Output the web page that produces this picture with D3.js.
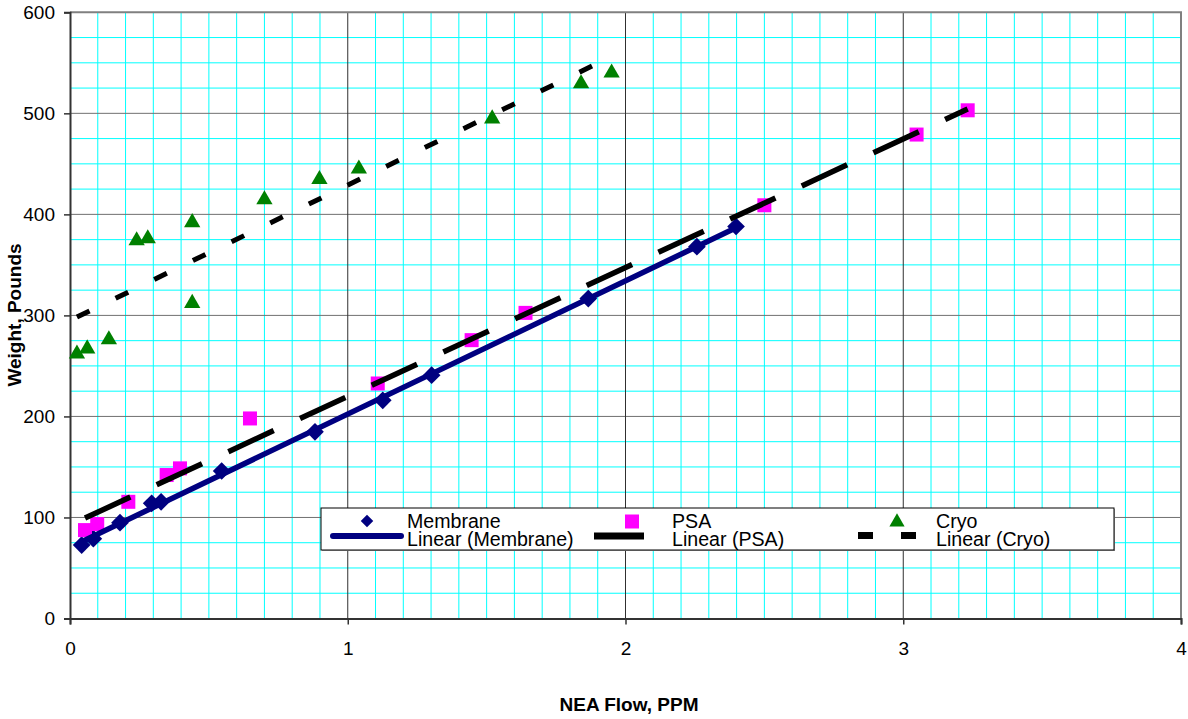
<!DOCTYPE html>
<html><head><meta charset="utf-8">
<script src="https://cdn.jsdelivr.net/npm/d3@7"></script>
<style>
body{margin:0;background:#fff;}
text{font-family:"Liberation Sans",Arial,sans-serif;}
</style></head>
<body>
<svg id="c" width="1188" height="719"></svg>
<script>
// ---- data ----
const membraneX = [0.042,0.084,0.18,0.294,0.328,0.546,0.882,1.126,1.302,1.866,2.257,2.398];
const membraneY = [72.7,79,94.8,114,115.5,146,184.8,216,240.8,316.7,368,388];
const psaX = [0.054,0.098,0.21,0.348,0.396,0.648,1.108,1.446,1.64,2.50,3.048,3.232];
const psaY = [87.5,93.5,115.5,142,148.6,198,232.6,275.5,302.5,409,479,503];
const cryoX = [0.025,0.062,0.14,0.24,0.28,0.44,0.44,0.70,0.898,1.04,1.52,1.84,1.95];
const cryoY = [262,267,276,374,376,312,392,414.6,434.7,445,494.7,529.4,540];
const xTicks = [0,1,2,3,4];
const yTicks = [0,100,200,300,400,500,600];
const seriesNames = ["Membrane","PSA","Cryo"];

// ---- chart ----
const svg = d3.select("#c");
const L=70, R=1181, T=12.3, B=618.5;
const x = d3.scaleLinear().domain([0,4]).range([L,R]);
const y = d3.scaleLinear().domain([0,600]).range([B,T]);

// minor grid
const g = svg.append("g");
g.selectAll(".vx").data(d3.range(1,40).map(i=>i/10).filter(v=>Math.abs(v-Math.round(v))>1e-6))
 .enter().append("line").attr("x1",d=>x(d)).attr("x2",d=>x(d)).attr("y1",T).attr("y2",B)
 .attr("stroke","#00ffff").attr("stroke-width",1);
g.selectAll(".hy").data(d3.range(1,24).map(i=>i*25).filter(v=>v%100!==0))
 .enter().append("line").attr("y1",d=>y(d)).attr("y2",d=>y(d)).attr("x1",L).attr("x2",R)
 .attr("stroke","#00ffff").attr("stroke-width",1);
// major grid
g.selectAll(".mh").data(yTicks.filter(v=>v>0&&v<600)).enter().append("line")
 .attr("y1",d=>y(d)).attr("y2",d=>y(d)).attr("x1",L).attr("x2",R)
 .attr("stroke","#707070").attr("stroke-width",1);
g.selectAll(".mv").data(xTicks.filter(v=>v>0&&v<4)).enter().append("line")
 .attr("x1",d=>x(d)).attr("x2",d=>x(d)).attr("y1",T).attr("y2",B)
 .attr("stroke","#303030").attr("stroke-width",1);
// border top/right
svg.append("path").attr("d",`M${L},${T}H${R}V${B}`).attr("fill","none")
 .attr("stroke","#808080").attr("stroke-width",2);

// axes
const yAxis = d3.axisLeft(y).tickValues(yTicks).tickSize(6).tickPadding(9).tickFormat(d3.format("d"));
const ya = svg.append("g").attr("transform",`translate(${L},0)`).call(yAxis);
const xAxis = d3.axisBottom(x).tickValues(xTicks).tickSize(6).tickPadding(17).tickFormat(d3.format("d"));
const xa = svg.append("g").attr("transform",`translate(0,${B})`).call(xAxis);
[ya,xa].forEach(a=>{
  a.select(".domain").attr("stroke","#333").attr("stroke-width",2);
  a.selectAll(".tick line").attr("stroke","#333").attr("stroke-width",1.5);
  a.selectAll(".tick text").attr("fill","#000").style("font-size","19px")
   .style("font-family","'Liberation Sans',Arial,sans-serif");
});

// markers
const diamond = d3.symbol().type(d3.symbolDiamond2).size(200);
const tri = d3.symbol().type(d3.symbolTriangle).size(115);
const mData = membraneX.map((v,i)=>[v,membraneY[i]]);
const pData = psaX.map((v,i)=>[v,psaY[i]]);
const cData = cryoX.map((v,i)=>[v,cryoY[i]]);

svg.append("g").selectAll("path").data(mData).enter().append("path")
 .attr("d",diamond).attr("transform",d=>`translate(${x(d[0])},${y(d[1])})`)
 .attr("fill","#000080");
svg.append("g").selectAll("rect").data(pData).enter().append("rect")
 .attr("x",d=>x(d[0])-7).attr("y",d=>y(d[1])-7).attr("width",14).attr("height",14)
 .attr("fill","#ff00ff");
svg.append("g").selectAll("path").data(cData).enter().append("path")
 .attr("d",tri).attr("transform",d=>`translate(${x(d[0])},${y(d[1])})`)
 .attr("fill","#008000");

// linear trendlines (least squares)
function fit(xs,ys){
  const mx=d3.mean(xs), my=d3.mean(ys);
  let sxy=0,sxx=0; xs.forEach((v,i)=>{sxy+=(v-mx)*(ys[i]-my); sxx+=(v-mx)*(v-mx);});
  const b=sxy/sxx, a=my-b*mx;
  const x0=d3.min(xs), x1=d3.max(xs);
  return [[x0,a+b*x0],[x1,a+b*x1]];
}
const line = d3.line().x(d=>x(d[0])).y(d=>y(d[1]));
svg.append("path").attr("d",line(fit(membraneX,membraneY))).attr("fill","none")
 .attr("stroke","#000080").attr("stroke-width",5.5).attr("stroke-linecap","round");
svg.append("path").attr("d",line(fit(psaX,psaY))).attr("fill","none")
 .attr("stroke","#000").attr("stroke-width",5.5).attr("stroke-dasharray","50,29");
svg.append("path").attr("d",line(fit(cryoX,cryoY))).attr("fill","none")
 .attr("stroke","#000").attr("stroke-width",5).attr("stroke-dasharray","14,29");

// axis titles
svg.append("text").attr("x",629).attr("y",711).attr("text-anchor","middle")
 .style("font-size","19px").style("font-weight","bold").text("NEA Flow, PPM");
svg.append("text").attr("transform","translate(21,315) rotate(-90)").attr("text-anchor","middle")
 .style("font-size","19px").style("font-weight","bold").text("Weight, Pounds");

// legend
const lg = svg.append("g");
lg.append("rect").attr("x",321).attr("y",508).attr("width",793).attr("height",42)
 .attr("fill","#fff").attr("stroke","#000").attr("stroke-width",1);
lg.append("path").attr("d","M322,550.5H1114.5V509").attr("fill","none").attr("stroke","#555").attr("stroke-width",1);
// Membrane
lg.append("path").attr("d",d3.symbol().type(d3.symbolDiamond2).size(100)).attr("transform","translate(367,521)").attr("fill","#000080");
lg.append("line").attr("x1",333).attr("x2",401).attr("y1",536).attr("y2",536)
 .attr("stroke","#000080").attr("stroke-width",6).attr("stroke-linecap","round");
// PSA
lg.append("rect").attr("x",625).attr("y",514.5).attr("width",14).attr("height",14).attr("fill","#ff00ff");
lg.append("line").attr("x1",594).attr("x2",644).attr("y1",536).attr("y2",536)
 .attr("stroke","#000").attr("stroke-width",7);
// Cryo
lg.append("path").attr("d",d3.symbol().type(d3.symbolTriangle).size(100)).attr("transform","translate(897,522)").attr("fill","#008000");
lg.append("line").attr("x1",858).attr("x2",916).attr("y1",535.5).attr("y2",535.5)
 .attr("stroke","#000").attr("stroke-width",7).attr("stroke-dasharray","15,28");
const lt = [[407,seriesNames[0]],[672,seriesNames[1]],[936,seriesNames[2]]];
lt.forEach(([lx,nm])=>{
  lg.append("text").attr("x",lx).attr("y",528).style("font-size","19.6px").text(nm);
  lg.append("text").attr("x",lx).attr("y",545.5).style("font-size","19.6px").text(`Linear (${nm})`);
});
</script>
</body></html>
